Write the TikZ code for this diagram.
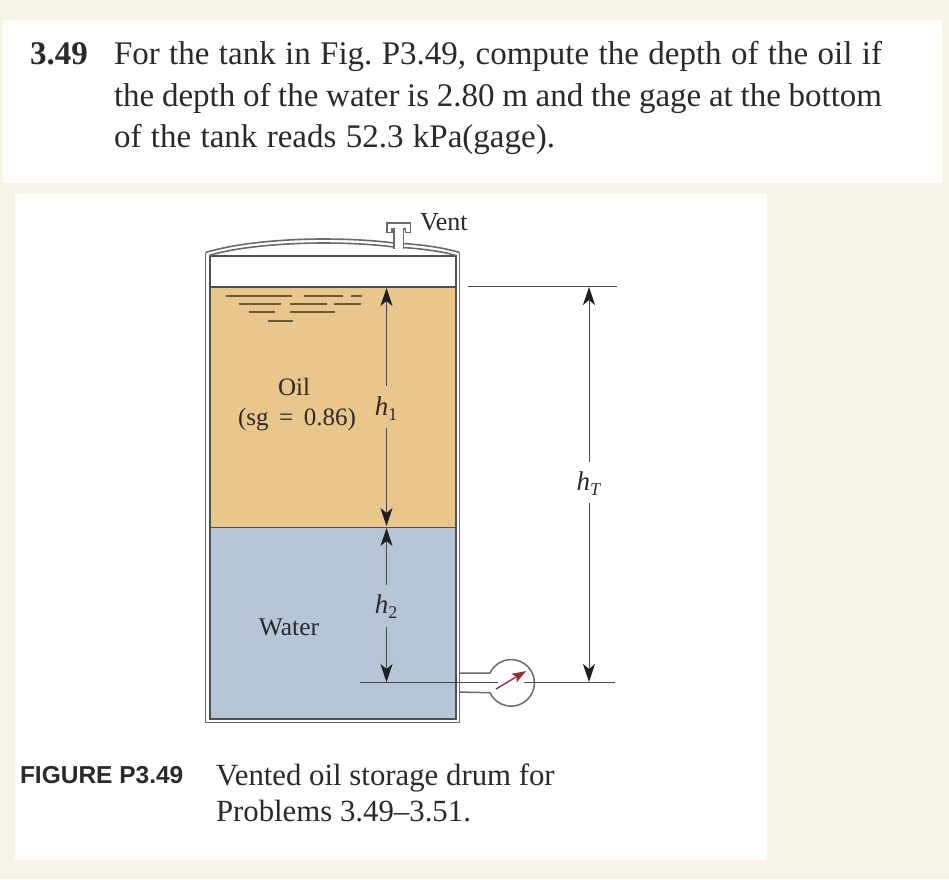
\documentclass[tikz,border=0pt]{standalone}
\usepackage{fontspec}
\setmainfont{Liberation Serif}
\newfontfamily\capsans{Liberation Sans}
\usetikzlibrary{arrows.meta}
\definecolor{bgcream}{HTML}{F8F5E8}
\definecolor{oilc}{HTML}{E8C68C}
\definecolor{waterc}{HTML}{B7C6D7}
\definecolor{wallc}{HTML}{505052}
\definecolor{wallg}{HTML}{6A6A6C}
\definecolor{dimc}{HTML}{4A4A4C}
\definecolor{inkc}{HTML}{2A2A2C}
\definecolor{ripc}{HTML}{6A5A3C}
\definecolor{needlec}{HTML}{9A2A35}
\newcommand{\hlabel}[1]{\textit{h}\raisebox{-5pt}{\fontsize{18}{20}\selectfont #1}}
\tikzset{
  every node/.style={inner sep=0pt,outer sep=0pt,text=inkc},
  wall/.style={draw=wallc,line width=2pt},
  wallouter/.style={draw=wallg,line width=1.6pt},
  dimline/.style={draw=dimc,line width=0.9pt},
  tip/.style={-{Stealth[length=18pt,width=12pt,inset=5pt,color=black!88]}},
  ripple/.style={draw=ripc,line width=1.4pt},
  headtext/.style={font=\fontsize{33}{41}\selectfont\frenchspacing,anchor=base west},
  captext/.style={font=\fontsize{30.8}{37}\selectfont,anchor=base west},
  mathlabel/.style={font=\fontsize{27}{30}\selectfont}
}
\begin{document}
\begin{tikzpicture}[x=1pt,y=-1pt]
\useasboundingbox (0,0) rectangle (949,879);
\fill[bgcream] (0,0) rectangle (949,879);
\fill[white] (3,20) rectangle (942,183);
\fill[white] (15,194) rectangle (767,860);
% problem text
\node[headtext,font=\fontsize{33}{41}\selectfont\bfseries] (num) at (30,64) {3.49};
\node[headtext] (l1) at (114,64) {\makebox[768pt][s]{For the tank in Fig. P3.49, compute the depth of the oil if}};
\node[headtext] (l2) at (114,106) {\makebox[768pt][s]{the depth of the water is 2.80 m and the gage at the bottom}};
\node[headtext] (l3) at (114,147) {\makebox[441pt][s]{of the tank reads 52.3 kPa(gage).}};
% tank fluids
\fill[oilc] (210,287) rectangle (455,527);
\fill[waterc] (210,527) rectangle (455,718);
\draw[draw=wallc,line width=1pt] (210,527) -- (455,527);
\draw[wall,line width=1.8pt] (210,287) -- (455,287);
% tank walls: outer and inner
\draw[wallouter] (205.5,252.5) -- (205.5,722.5) -- (459.5,722.5) -- (459.5,252.5);
\draw[wall] (209.5,256) -- (209.5,718.5) -- (455.5,718.5) -- (455.5,256) -- cycle;
% dome
\draw[wallouter] (205.5,252.5) .. controls (240,242) and (290,239) .. (323,239) .. controls (350,239) and (375,240.5) .. (394,243);
\draw[wallouter] (403,243.5) .. controls (425,245) and (445,248) .. (459.5,252.5);
\draw[wallouter] (209,255.5) .. controls (240,246) and (290,243) .. (323,243) .. controls (350,243) and (375,244.5) .. (394,247);
\draw[wallouter] (403,247.5) .. controls (425,249) and (445,252) .. (456,255.5);
% vent
\draw[wallouter] (394,249) -- (394,229) -- (392,229) -- (392,232.5) -- (387,232.5) -- (387,223) -- (410.5,223) -- (410.5,232.5) -- (405.5,232.5) -- (405.5,229) -- (403.5,229) -- (403.5,249);
\node[font=\fontsize{26}{30}\selectfont,anchor=base west] (vent) at (420,230) {Vent};
% oil surface ripples
\draw[ripple] (226,296) -- (292,296) (304,296) -- (343,296) (351,296) -- (362,296);
\draw[ripple] (239,304) -- (281,304) (290,304) -- (327,304) (334,304) -- (361,304);
\draw[ripple] (249,312) -- (275,312) (290,312) -- (335,312);
\draw[ripple] (268,321) -- (293,321);
% fluid labels
\node[font=\fontsize{25}{28}\selectfont] (oil) at (294,387) {Oil};
\node[font=\fontsize{25}{28}\selectfont] (sg) at (297,420) {\makebox[118pt][s]{(sg = 0.86)}};
\node[font=\fontsize{25.5}{28}\selectfont] (water) at (289,627) {Water};
% gage
\coordinate (nt) at (526,671);
\coordinate (nb) at (496,689);
\draw[draw=wallg,line width=1.5pt] (459,673) -- (490,673) arc[start angle=-155,end angle=155,radius=23.3] -- (459,692);
\draw[draw=needlec,line width=1.4pt,-{Stealth[length=14pt,width=10pt,inset=3pt]}] (nb) -- (nt);
% datum lines
\coordinate (bL) at (360,682.5);
\coordinate (bM) at (498,682.5);
\coordinate (gR0) at (524,682.5);
\coordinate (gR) at (615,682.5);
\draw[dimline] (bL) -- (bM);
\draw[dimline] (gR0) -- (gR);
\coordinate (tL) at (468,286.5);
\coordinate (tR) at (617,286.5);
\draw[dimline] (tL) -- (tR);
% h1
\coordinate (a1t) at (386.5,288);
\coordinate (a1b) at (386.5,526);
\node[mathlabel] (h1) at (386,409) {\hlabel{1}};
\draw[dimline,tip] (386.5,386) -- (a1t);
\draw[dimline,tip] (386.5,428) -- (a1b);
% h2
\coordinate (a2t) at (386.5,528);
\coordinate (a2b) at (386.5,682);
\node[mathlabel] (h2) at (386,607) {\hlabel{2}};
\draw[dimline,tip] (386.5,585) -- (a2t);
\draw[dimline,tip] (386.5,627) -- (a2b);
% hT
\coordinate (a3t) at (589,287);
\coordinate (a3b) at (589,682);
\node[mathlabel] (hT) at (589,484) {\hlabel{\textit{T}}};
\draw[dimline,tip] (589,462) -- (a3t);
\draw[dimline,tip] (589,503) -- (a3b);
% caption
\node[anchor=base west,font=\fontsize{24.5}{28}\selectfont\capsans\bfseries] (fig) at (20,783) {FIGURE P3.49};
\node[captext] (c1) at (216,785) {Vented oil storage drum for};
\node[captext] (c2) at (216,821) {Problems 3.49–3.51.};
\end{tikzpicture}
\end{document}
